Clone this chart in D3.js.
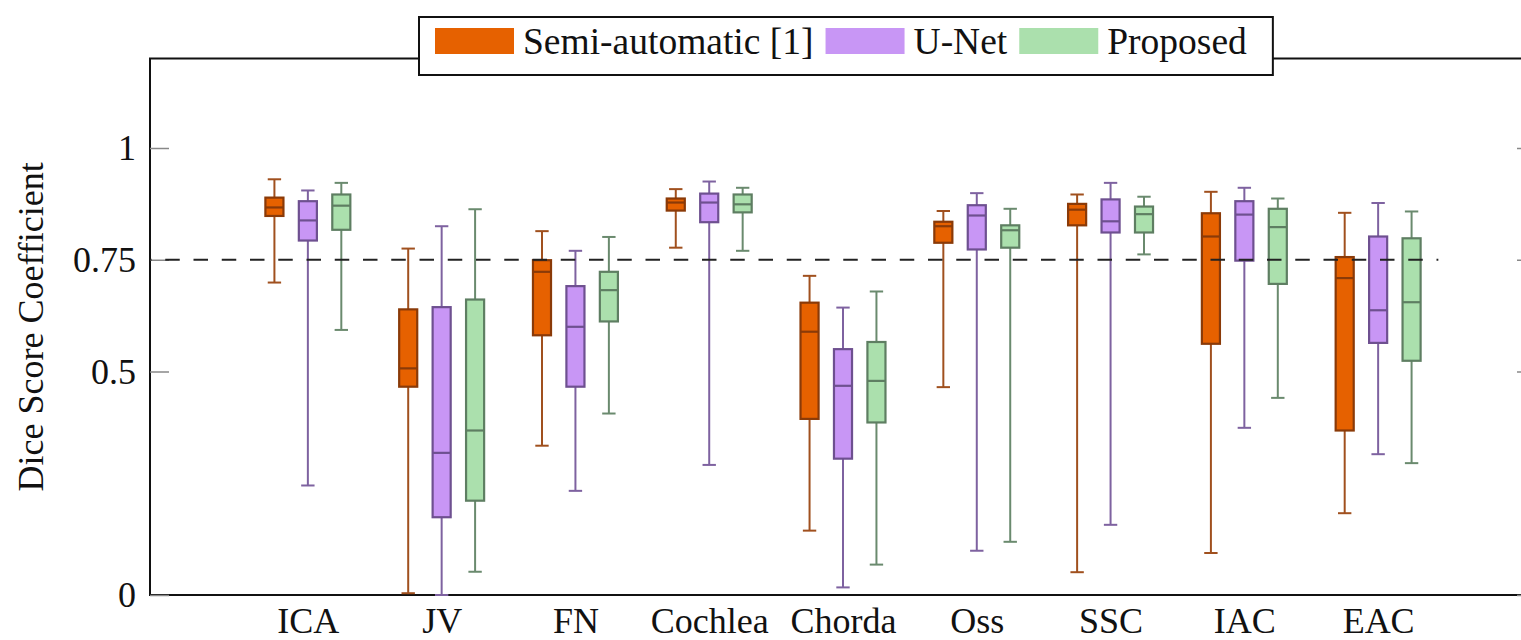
<!DOCTYPE html>
<html>
<head>
<meta charset="utf-8">
<script src="https://cdn.jsdelivr.net/npm/d3@7"></script>
<style>
  html, body { margin: 0; padding: 0; background: #fff; overflow: hidden; }
  svg { display: block; overflow: hidden; }
  text { font-family: "Liberation Serif", "DejaVu Serif", serif; }
</style>
</head>
<body>
<div id="chart"></div>
<script>
// categories and series: [lower whisker, q1, median, q3, upper whisker]
var categories = ['ICA', 'JV', 'FN', 'Cochlea', 'Chorda', 'Oss', 'SSC', 'IAC', 'EAC']
var seriesNames = ['Semi-automatic [1]', 'U-Net', 'Proposed']

var semiAuto = [
  [0.699, 0.848, 0.867, 0.889, 0.930],
  [0.004, 0.466, 0.507, 0.639, 0.775],
  [0.334, 0.581, 0.723, 0.749, 0.814],
  [0.777, 0.860, 0.878, 0.887, 0.908],
  [0.144, 0.394, 0.589, 0.654, 0.714],
  [0.465, 0.788, 0.825, 0.835, 0.859],
  [0.051, 0.827, 0.862, 0.875, 0.896],
  [0.094, 0.562, 0.802, 0.854, 0.902],
  [0.183, 0.368, 0.709, 0.756, 0.855]
]
var uNet = [
  [0.245, 0.793, 0.838, 0.881, 0.905],
  [0.000, 0.174, 0.318, 0.644, 0.825],
  [0.233, 0.466, 0.600, 0.691, 0.770],
  [0.291, 0.834, 0.878, 0.898, 0.925],
  [0.017, 0.305, 0.468, 0.550, 0.643],
  [0.099, 0.773, 0.849, 0.872, 0.899],
  [0.157, 0.811, 0.836, 0.885, 0.922],
  [0.374, 0.748, 0.851, 0.881, 0.911],
  [0.315, 0.564, 0.637, 0.802, 0.877]
]
var proposed = [
  [0.593, 0.817, 0.871, 0.896, 0.922],
  [0.052, 0.211, 0.368, 0.661, 0.863],
  [0.406, 0.612, 0.682, 0.723, 0.801],
  [0.770, 0.856, 0.874, 0.896, 0.911],
  [0.068, 0.386, 0.479, 0.566, 0.679],
  [0.119, 0.777, 0.816, 0.827, 0.864],
  [0.762, 0.811, 0.852, 0.869, 0.891],
  [0.441, 0.696, 0.823, 0.864, 0.887],
  [0.295, 0.524, 0.655, 0.798, 0.858]
]
var yTicks = [0, 0.5, 0.75, 1]
var threshold = 0.75

var fills = ['#e66100', '#c896f5', '#abe0ad']
var strokes = ['#8a3a08', '#6e5090', '#5e7e62']
var whiskerColors = ['#a0501e', '#7e62a0', '#6a8a6e']
var offsets = [-0.25, 0, 0.25]
var boxWidth = 0.135
var capWidth = 0.1

var margin = { top: 58.6, left: 150, right: -15, bottom: 45 }
var width = 1521 - margin.left - margin.right
var height = 640 - margin.top - margin.bottom

var svg = d3.select('#chart')
  .append('svg')
  .attr('width', 1521)
  .attr('height', 640)
  .attr('viewBox', '0 0 1521 640')

var g = svg.append('g')
  .attr('transform', 'translate(' + margin.left + ',' + margin.top + ')')

var xPositionScale = d3.scaleLinear().domain([-0.18, 10.18]).range([0, width])
var yPositionScale = d3.scaleLinear().domain([0, 1.2]).range([height, 0])

// frame: left, top and bottom edges (right edge falls past the picture)
g.append('path')
  .attr('d', 'M' + width + ',0H0V' + height + 'H' + width)
  .attr('fill', 'none')
  .attr('stroke', '#111')
  .attr('stroke-width', 2)

// y axes (ticks inside on both sides)
var yAxis = d3.axisLeft(yPositionScale).tickValues(yTicks).tickSize(-19).tickPadding(14)
  .tickFormat(function(d) { return String(d) })
g.append('g').attr('class', 'axis y-axis').call(yAxis)

var yAxisRight = d3.axisRight(yPositionScale).tickValues(yTicks).tickSize(-19).tickFormat('')
g.append('g').attr('class', 'axis y-axis-right')
  .attr('transform', 'translate(' + width + ',0)')
  .call(yAxisRight)

var xAxis = d3.axisBottom(xPositionScale)
  .tickValues(categories.map(function(d, i) { return i + 1 }))
  .tickSize(0)
  .tickPadding(12)
  .tickFormat(function(d) { return categories[d - 1] })
g.append('g').attr('class', 'axis x-axis')
  .attr('transform', 'translate(0,' + height + ')')
  .call(xAxis)

g.selectAll('.axis .domain').remove()
g.selectAll('.axis line').attr('stroke', '#888').attr('stroke-width', 1.5)
g.selectAll('.axis text')
  .attr('font-size', '36px')
  .attr('fill', '#111')
  .style('font-family', '"Liberation Serif", serif')

// boxes
var allSeries = [semiAuto, uNet, proposed]
allSeries.forEach(function(series, s) {
  var box = g.selectAll('.box-' + s)
    .data(series)
    .enter()
    .append('g')
    .attr('class', 'box-' + s)
    .attr('transform', function(d, i) {
      return 'translate(' + xPositionScale(i + 1 + offsets[s]) + ',0)'
    })

  var bw = xPositionScale(boxWidth) - xPositionScale(0)
  var cw = xPositionScale(capWidth) - xPositionScale(0)

  box.append('line')
    .attr('y1', function(d) { return yPositionScale(d[3]) })
    .attr('y2', function(d) { return yPositionScale(d[4]) })
    .attr('stroke', whiskerColors[s]).attr('stroke-width', 2)
  box.append('line')
    .attr('y1', function(d) { return yPositionScale(d[1]) })
    .attr('y2', function(d) { return yPositionScale(d[0]) })
    .attr('stroke', whiskerColors[s]).attr('stroke-width', 2)
  box.append('line')
    .attr('x1', -cw / 2).attr('x2', cw / 2)
    .attr('y1', function(d) { return yPositionScale(d[4]) })
    .attr('y2', function(d) { return yPositionScale(d[4]) })
    .attr('stroke', whiskerColors[s]).attr('stroke-width', 2)
  box.append('line')
    .attr('x1', -cw / 2).attr('x2', cw / 2)
    .attr('y1', function(d) { return yPositionScale(d[0]) })
    .attr('y2', function(d) { return yPositionScale(d[0]) })
    .attr('stroke', whiskerColors[s]).attr('stroke-width', 2)

  box.append('rect')
    .attr('x', -bw / 2)
    .attr('width', bw)
    .attr('y', function(d) { return yPositionScale(d[3]) })
    .attr('height', function(d) { return yPositionScale(d[1]) - yPositionScale(d[3]) })
    .attr('fill', fills[s])
    .attr('stroke', strokes[s])
    .attr('stroke-width', 2.2)

  box.append('line')
    .attr('x1', -bw / 2).attr('x2', bw / 2)
    .attr('y1', function(d) { return yPositionScale(d[2]) })
    .attr('y2', function(d) { return yPositionScale(d[2]) })
    .attr('stroke', strokes[s]).attr('stroke-width', 2.2)
})

// dashed reference line (drawn over the boxes)
g.append('line')
  .attr('x1', xPositionScale(-0.18))
  .attr('x2', xPositionScale(9.45))
  .attr('y1', yPositionScale(threshold))
  .attr('y2', yPositionScale(threshold))
  .attr('stroke', '#222')
  .attr('stroke-width', 2)
  .attr('stroke-dasharray', '14.5 13.75')
  .attr('stroke-dashoffset', 13)

// y label
svg.append('text')
  .text('Dice Score Coefficient')
  .attr('transform', 'translate(43,' + (margin.top + height / 2) + ') rotate(-90)')
  .attr('text-anchor', 'middle')
  .attr('font-size', '36px')
  .attr('fill', '#111')

// legend
var legend = svg.append('g').attr('transform', 'translate(419,17)')
var legendBox = legend.append('rect')
  .attr('height', 58)
  .attr('fill', '#fff')
  .attr('stroke', '#111')
  .attr('stroke-width', 2)

var xCursor = 16
seriesNames.forEach(function(name, s) {
  legend.append('rect')
    .attr('x', xCursor)
    .attr('y', 11)
    .attr('width', 79)
    .attr('height', 26)
    .attr('fill', fills[s])
  var t = legend.append('text')
    .text(name)
    .attr('x', xCursor + 88)
    .attr('y', 37)
    .attr('font-size', '37.5px')
    .attr('fill', '#111')
  xCursor += 88 + t.node().getComputedTextLength() + 12
})
legendBox.attr('width', xCursor + 14)
</script>
</body>
</html>
